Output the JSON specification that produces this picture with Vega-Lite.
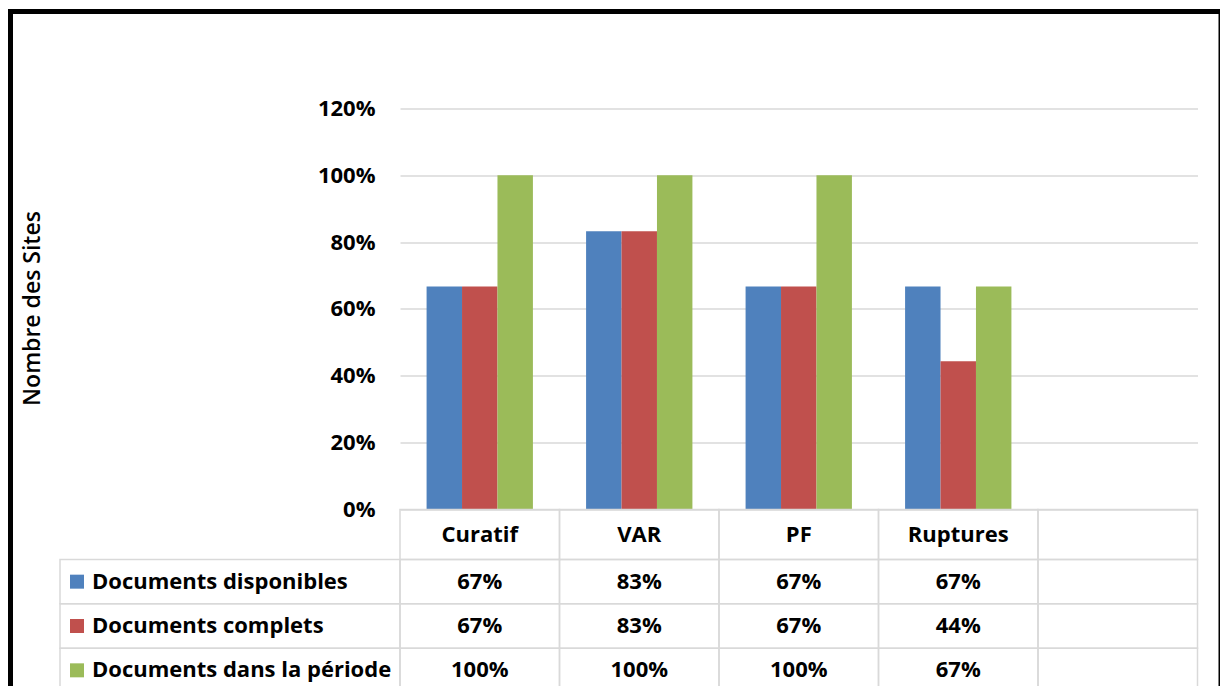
{
  "$schema": "https://vega.github.io/schema/vega-lite/v6.json",
  "width": 1210.5,
  "height": 681,
  "autosize": "none",
  "padding": {"left": 10.5, "top": 11.5, "right": -1, "bottom": -6.5},
  "background": "white",
  "config": {
    "view": {"stroke": "#000000", "strokeWidth": 5},
    "text": {"font": "Open Sans", "fontSize": 22, "fontWeight": "bold", "color": "#000000"}
  },
  "datasets": {
    "vals": [
      {"cat": "Curatif", "series": "Documents disponibles", "value": 0.667},
      {"cat": "Curatif", "series": "Documents complets", "value": 0.667},
      {"cat": "Curatif", "series": "Documents dans la période", "value": 1.0},
      {"cat": "VAR", "series": "Documents disponibles", "value": 0.833},
      {"cat": "VAR", "series": "Documents complets", "value": 0.833},
      {"cat": "VAR", "series": "Documents dans la période", "value": 1.0},
      {"cat": "PF", "series": "Documents disponibles", "value": 0.667},
      {"cat": "PF", "series": "Documents complets", "value": 0.667},
      {"cat": "PF", "series": "Documents dans la période", "value": 1.0},
      {"cat": "Ruptures", "series": "Documents disponibles", "value": 0.667},
      {"cat": "Ruptures", "series": "Documents complets", "value": 0.444},
      {"cat": "Ruptures", "series": "Documents dans la période", "value": 0.667},
      {"cat": " ", "series": "Documents disponibles", "value": null},
      {"cat": " ", "series": "Documents complets", "value": null},
      {"cat": " ", "series": "Documents dans la période", "value": null}
    ]
  },
  "data": {"name": "vals"},
  "layer": [
    {
      "transform": [{"filter": "isValid(datum.value)"}],
      "mark": {"type": "bar"},
      "encoding": {
        "x": {"field": "cat", "type": "nominal", "scale": {"domain": ["_a", "_b", "Curatif", "VAR", "PF", "Ruptures", " "], "paddingInner": 0, "paddingOuter": 0.294671, "align": 0.75}, "axis": null},
        "xOffset": {"field": "series", "type": "nominal", "scale": {"domain": ["Documents disponibles", "Documents complets", "Documents dans la période"], "paddingInner": 0, "paddingOuter": 0.75}},
        "y": {"field": "value", "type": "quantitative", "scale": {"domain": [-0.54763, 1.49027], "nice": false, "zero": false},
          "axis": {"values": [0, 0.2, 0.4, 0.6, 0.8, 1, 1.2], "format": ".0%", "offset": -389.5, "domain": false, "grid": false, "ticks": true, "tickSize": -797.5, "tickColor": "#d9d9d9", "tickWidth": 1.5, "labelPadding": 822.5, "labelFont": "Open Sans", "labelFontSize": 22, "labelFontWeight": "bold", "labelColor": "#000000", "labelBaseline": "middle", "labelAlign": "right", "title": "Nombre des Sites", "titleFont": "Open Sans", "titleFontSize": 23, "titleFontWeight": 600, "titleColor": "#000000", "titleX": -368, "titleY": 296.5, "titleAngle": -90, "titleAlign": "center", "titleBaseline": "middle", "zindex": 0}},
        "y2": {"datum": 0},
        "color": {"field": "series", "type": "nominal", "scale": {"domain": ["Documents disponibles", "Documents complets", "Documents dans la période"], "range": ["#4F81BD", "#C0504D", "#9BBB59"]}, "legend": null}
      }
    },
    {
      "transform": [{"filter": "datum.series === 'Documents disponibles'"}],
      "layer": [
        {
          "mark": {"type": "rect", "filled": false, "color": "#d9d9d9", "strokeWidth": 1.5},
          "encoding": {
            "x": {"field": "cat", "type": "nominal", "scale": {"domain": ["_a", "_b", "Curatif", "VAR", "PF", "Ruptures", " "], "paddingInner": 0, "paddingOuter": 0.294671, "align": 0.75}, "axis": null},
            "y": {"datum": "hdr", "type": "nominal", "scale": {"domain": ["_h1", "_h2", "_h3", "_h4", "_h5", "_h6", "_h7", "_h8", "_h9", "hdr", "_h10", "_h11"], "paddingInner": 0, "paddingOuter": 0.81, "align": 0.592593}, "axis": null}
          }
        },
        {
          "mark": {"type": "text"},
          "encoding": {
            "x": {"field": "cat", "type": "nominal", "scale": {"domain": ["_a", "_b", "Curatif", "VAR", "PF", "Ruptures", " "], "paddingInner": 0, "paddingOuter": 0.294671, "align": 0.75}, "axis": null},
            "y": {"datum": "hdr", "type": "nominal", "scale": {"domain": ["_h1", "_h2", "_h3", "_h4", "_h5", "_h6", "_h7", "_h8", "_h9", "hdr", "_h10", "_h11"], "paddingInner": 0, "paddingOuter": 0.81, "align": 0.592593}, "axis": null},
            "text": {"field": "cat", "type": "nominal"}
          }
        }
      ]
    },
    {
      "layer": [
        {
          "mark": {"type": "rect", "filled": false, "color": "#d9d9d9", "strokeWidth": 1.5},
          "encoding": {
            "x": {"field": "cat", "type": "nominal", "scale": {"domain": ["_a", "_b", "Curatif", "VAR", "PF", "Ruptures", " "], "paddingInner": 0, "paddingOuter": 0.294671, "align": 0.75}, "axis": null},
            "y": {"field": "series", "type": "nominal", "scale": {"domain": ["_r1", "_r2", "_r3", "_r4", "_r5", "_r6", "_r7", "_r8", "_r9", "_r10", "_r11", "_r12", "Documents disponibles", "Documents complets", "Documents dans la période"], "paddingInner": 0, "paddingOuter": 0.180451, "align": 1}, "axis": null}
          }
        },
        {
          "transform": [{"filter": "isValid(datum.value)"}],
          "mark": {"type": "text"},
          "encoding": {
            "x": {"field": "cat", "type": "nominal", "scale": {"domain": ["_a", "_b", "Curatif", "VAR", "PF", "Ruptures", " "], "paddingInner": 0, "paddingOuter": 0.294671, "align": 0.75}, "axis": null},
            "y": {"field": "series", "type": "nominal", "scale": {"domain": ["_r1", "_r2", "_r3", "_r4", "_r5", "_r6", "_r7", "_r8", "_r9", "_r10", "_r11", "_r12", "Documents disponibles", "Documents complets", "Documents dans la période"], "paddingInner": 0, "paddingOuter": 0.180451, "align": 1}, "axis": null},
            "text": {"field": "value", "type": "quantitative", "format": ".0%"}
          }
        }
      ]
    },
    {
      "transform": [{"filter": "datum.cat === 'Curatif'"}],
      "layer": [
        {
          "mark": {"type": "rect", "filled": false, "color": "#d9d9d9", "strokeWidth": 1.5},
          "encoding": {
            "x": {"datum": "L", "type": "nominal", "scale": {"domain": ["L", "_x1", "_x2"], "paddingInner": 0, "paddingOuter": 0.280147, "align": 0.259843}, "axis": null},
            "y": {"field": "series", "type": "nominal", "scale": {"domain": ["_r1", "_r2", "_r3", "_r4", "_r5", "_r6", "_r7", "_r8", "_r9", "_r10", "_r11", "_r12", "Documents disponibles", "Documents complets", "Documents dans la période"], "paddingInner": 0, "paddingOuter": 0.180451, "align": 1}, "axis": null}
          }
        },
        {
          "mark": {"type": "square", "size": 196, "filled": true, "opacity": 1, "xOffset": 17},
          "encoding": {
            "x": {"datum": "L", "type": "nominal", "bandPosition": 0, "scale": {"domain": ["L", "_x1", "_x2"], "paddingInner": 0, "paddingOuter": 0.280147, "align": 0.259843}, "axis": null},
            "y": {"field": "series", "type": "nominal", "scale": {"domain": ["_r1", "_r2", "_r3", "_r4", "_r5", "_r6", "_r7", "_r8", "_r9", "_r10", "_r11", "_r12", "Documents disponibles", "Documents complets", "Documents dans la période"], "paddingInner": 0, "paddingOuter": 0.180451, "align": 1}, "axis": null},
            "color": {"field": "series", "type": "nominal", "legend": null}
          }
        },
        {
          "mark": {"type": "text", "align": "left", "dx": 32},
          "encoding": {
            "x": {"datum": "L", "type": "nominal", "bandPosition": 0, "scale": {"domain": ["L", "_x1", "_x2"], "paddingInner": 0, "paddingOuter": 0.280147, "align": 0.259843}, "axis": null},
            "y": {"field": "series", "type": "nominal", "scale": {"domain": ["_r1", "_r2", "_r3", "_r4", "_r5", "_r6", "_r7", "_r8", "_r9", "_r10", "_r11", "_r12", "Documents disponibles", "Documents complets", "Documents dans la période"], "paddingInner": 0, "paddingOuter": 0.180451, "align": 1}, "axis": null},
            "text": {"field": "series", "type": "nominal"}
          }
        }
      ]
    }
  ],
  "resolve": {"scale": {"x": "independent", "y": "independent"}}
}
